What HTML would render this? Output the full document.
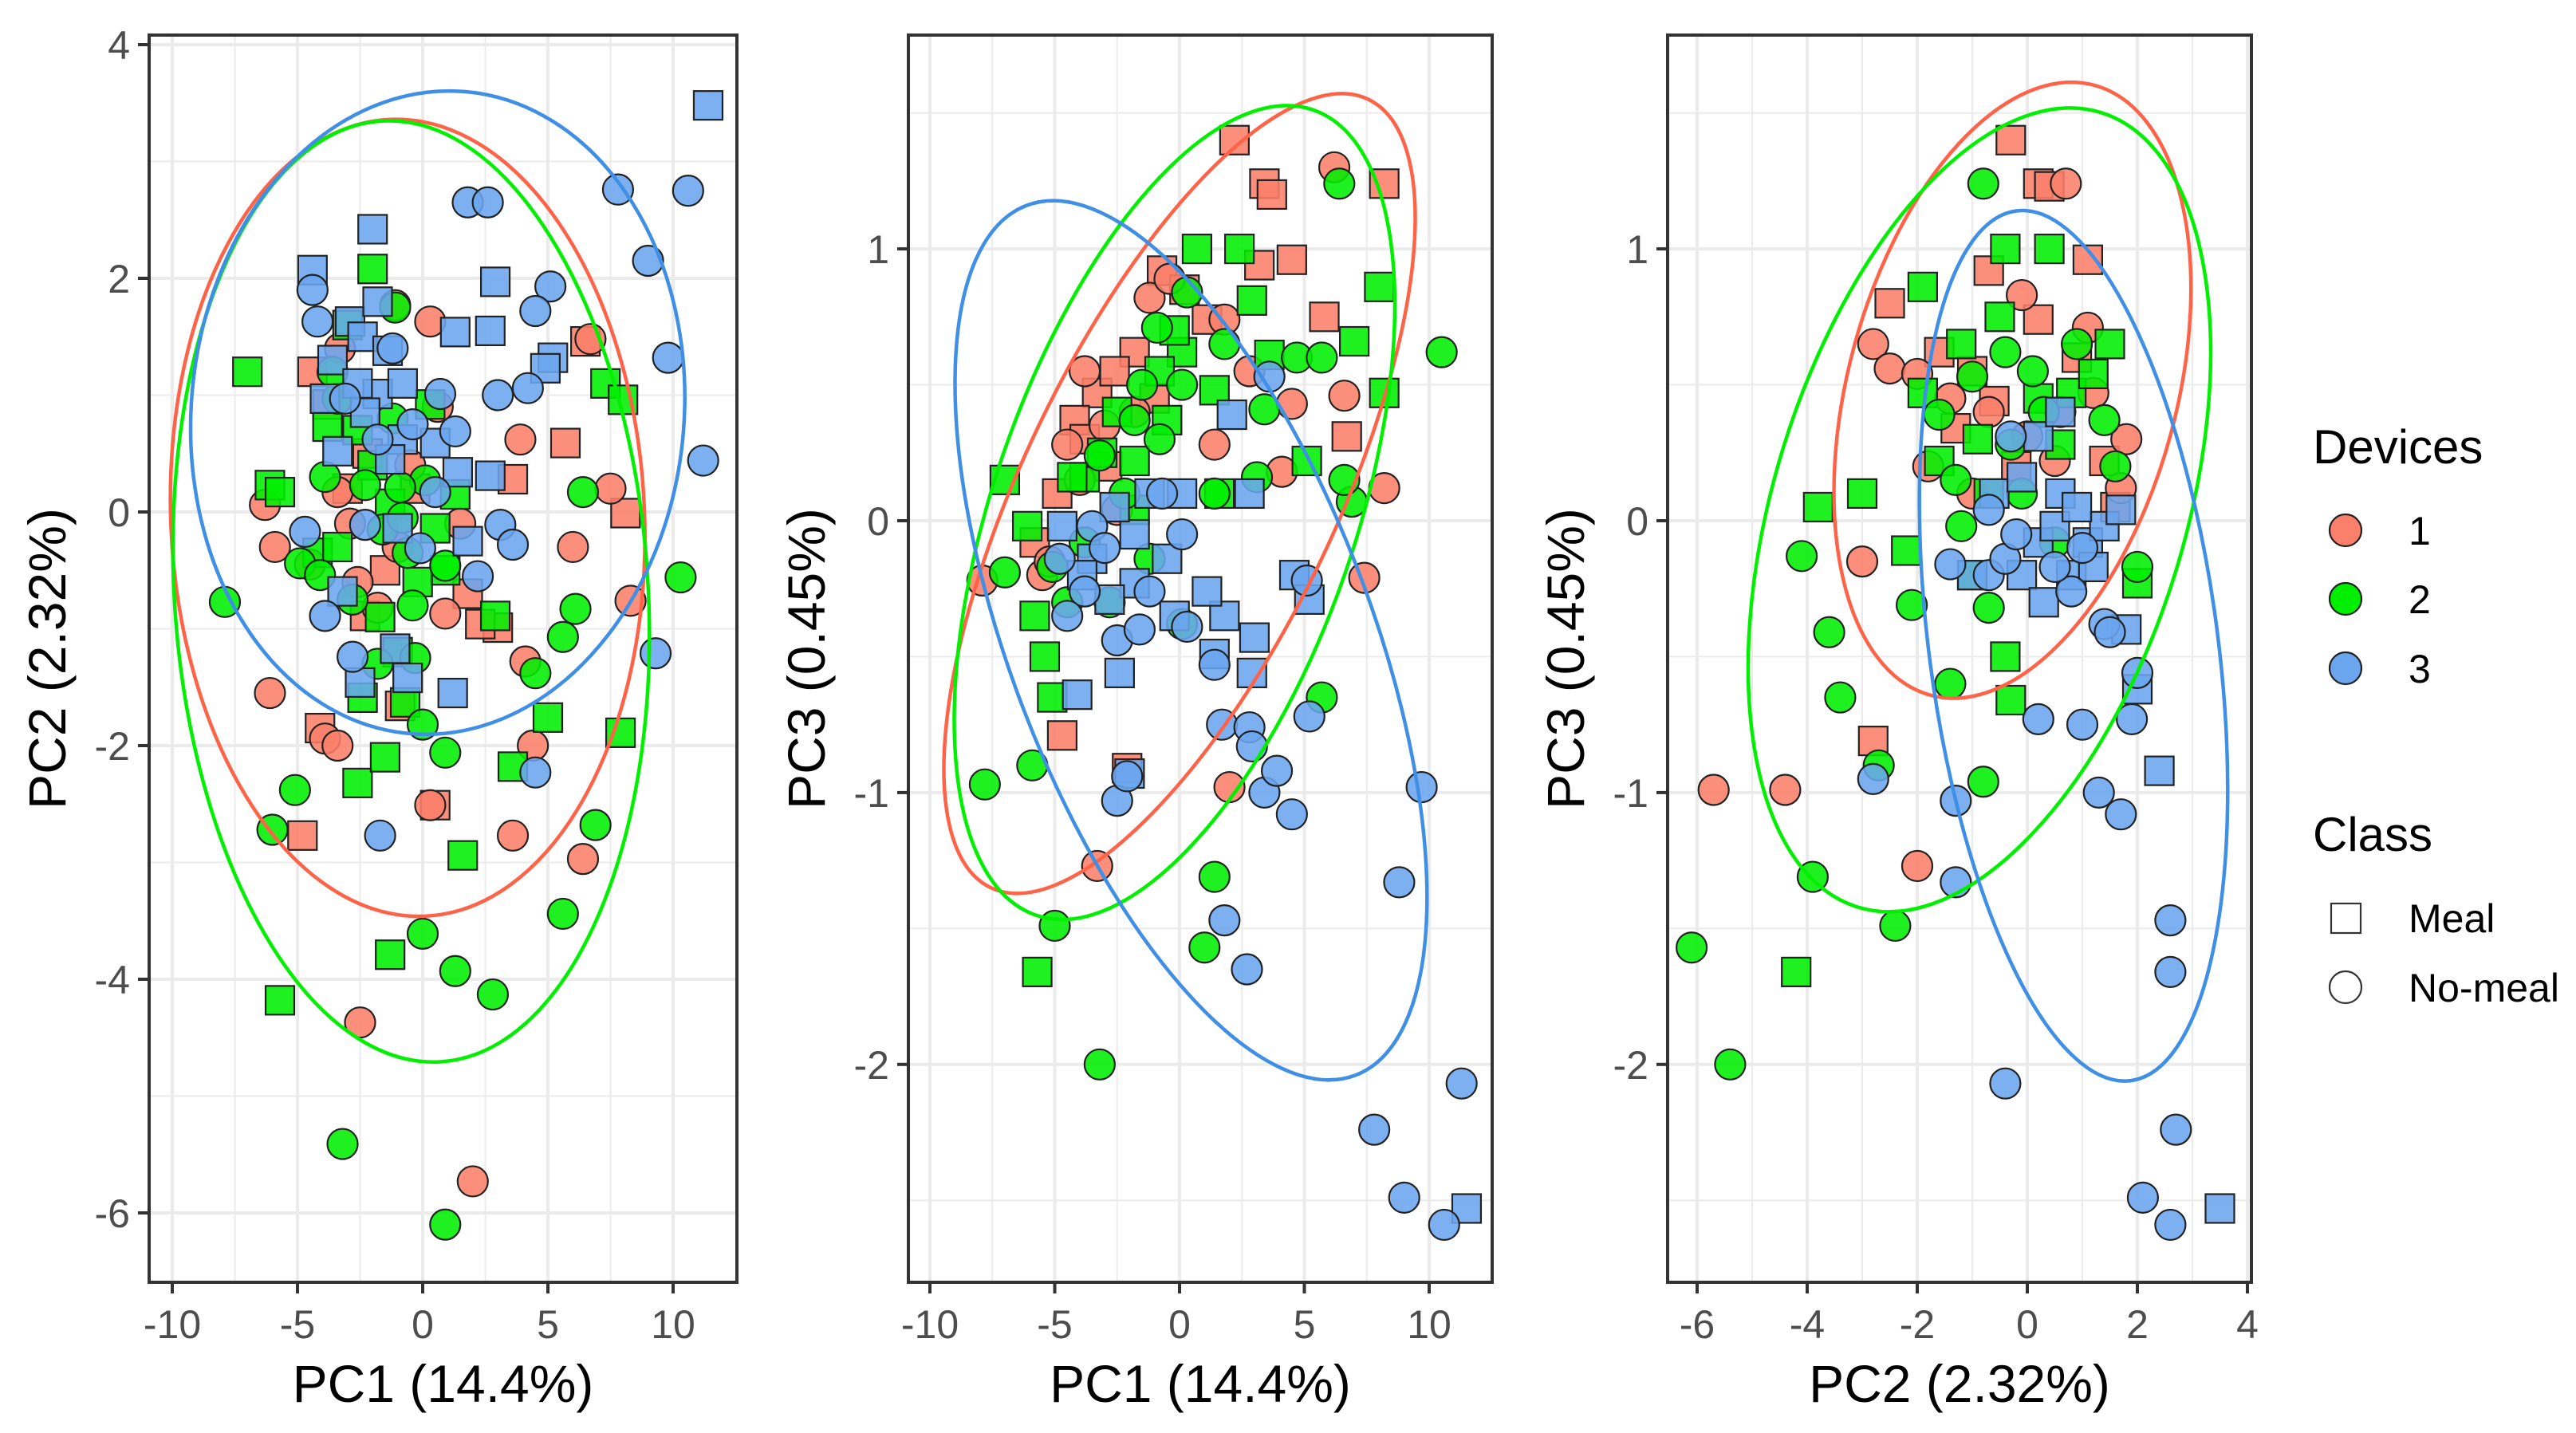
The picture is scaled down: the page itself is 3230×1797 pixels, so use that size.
<!DOCTYPE html>
<html><head><meta charset="utf-8"><style>
html,body{margin:0;padding:0;background:#fff}
svg{display:block}
text{font-family:"Liberation Sans",Arial,sans-serif}
</style></head><body>
<svg id="chart" width="3230" height="1797" viewBox="0 0 3230 1797" xmlns="http://www.w3.org/2000/svg"></svg>
<script>
// ---------- Panel 1: PC1 vs PC2 ----------
const p1_r_sq=[[-4.8,-2.77],[-4.1,-1.85],[0.5,-2.51],[-0.9,-1.66],[3.0,-0.99],[8.1,-0.01],[5.7,0.59],[6.5,1.46],[-3.8,0.92],[-4.4,1.2],[3.6,0.28],[-2.3,-0.89],[2.3,-0.96],[-3.0,0.2],[-1.5,-0.5],[-2.2,0.5],[-0.3,0.2],[1.8,-0.7]];
const p1_r_ci=[[-6.1,-1.55],[-3.9,-1.94],[-3.4,-2.0],[-2.5,-4.37],[2.0,-5.73],[0.3,-2.51],[3.6,-2.77],[6.4,-2.97],[4.4,-2.0],[4.1,-1.28],[6.0,-0.3],[7.5,0.2],[8.3,-0.76],[0.3,1.63],[-1.1,1.77],[-6.3,0.06],[-5.9,-0.3],[3.9,0.62],[-1.8,-0.82],[0.9,-0.87],[-3.4,0.17],[6.7,1.48],[-4.5,-0.45],[-2.6,-0.6],[1.5,-0.1],[-0.5,0.4],[-2.9,-0.1],[-1.0,-0.3],[0.6,0.9],[-3.3,1.4]];
const p1_g_sq=[[-7.0,1.2],[-5.7,-4.18],[-1.3,-3.79],[1.6,-2.94],[-2.6,-2.32],[-0.7,-1.63],[-2.4,-1.59],[5.0,-1.76],[3.6,-2.18],[7.9,-1.89],[7.3,1.1],[8.0,0.96],[-2.0,2.08],[-6.1,0.23],[-5.7,0.17],[-2.6,0.7],[0.3,0.92],[2.9,-0.89],[-3.8,0.73],[-1.3,0.07],[0.5,-0.14],[-4.2,-0.35],[-3.4,-0.3],[-1.0,-1.2],[0.9,-0.5],[1.3,0.15],[-1.5,-2.1],[-2.0,0.4],[-0.2,-0.6],[-1.7,-0.9],[-3.0,1.6]];
const p1_g_ci=[[-7.9,-0.77],[-5.1,-2.38],[-6.0,-2.72],[-3.2,-5.41],[0.9,-6.1],[0,-3.61],[1.3,-3.93],[2.8,-4.13],[5.6,-3.44],[6.9,-2.68],[0,-1.82],[0.9,-2.06],[5.6,-1.07],[4.5,-1.38],[6.1,-0.83],[10.3,-0.56],[6.4,0.17],[-1.1,1.75],[-4.9,-0.44],[-4.1,-0.54],[-1.6,-0.15],[0.1,0.27],[0.9,-0.46],[-0.6,-0.35],[-0.3,-1.25],[-3.4,0.97],[-0.9,0.21],[-2.3,0.23],[-3.6,1.2],[-1.8,-1.3],[-0.4,-0.8],[-2.8,-0.75],[-0.8,-0.05],[-3.9,0.3],[-1.2,0.8]];
const p1_b_sq=[[11.4,3.48],[-2.0,2.42],[-4.4,2.07],[2.9,1.97],[1.3,1.54],[2.7,1.55],[5.2,1.32],[4.9,1.23],[-3.6,1.3],[-2.9,1.63],[-2.4,1.5],[-1.4,1.38],[-3.9,0.97],[-1.8,1.01],[-0.8,1.1],[-3.4,0.52],[-0.8,0.62],[0.5,0.59],[1.4,0.34],[2.7,0.31],[-3.2,-0.68],[-1.0,-0.14],[1.8,-0.25],[-1.1,-1.17],[-2.5,-1.46],[-0.6,-1.42],[1.2,-1.55],[-1.8,1.8],[-2.6,1.1],[-1.3,0.45],[-2.3,0.85]];
const p1_b_ci=[[1.8,2.65],[2.6,2.65],[7.8,2.76],[10.6,2.75],[9.0,2.15],[9.8,1.32],[11.2,0.44],[9.3,-1.21],[5.1,1.93],[4.5,1.72],[4.2,1.06],[3.0,1.0],[0.7,1.01],[1.3,0.69],[-4.4,1.9],[-4.2,1.63],[-3.1,0.97],[-4.7,-0.17],[-3.9,-0.89],[-2.8,-1.24],[-0.1,-0.31],[3.1,-0.11],[3.6,-0.28],[-1.7,-2.77],[4.5,-2.23],[-1.8,0.62],[-2.3,-0.11],[0.5,0.17],[2.2,-0.55],[-1.2,1.4],[-0.4,0.75]];
// ---------- Panel 2: PC1 vs PC3 ----------
const p2_r_sq=[[2.2,1.40],[3.4,1.24],[3.7,1.20],[8.2,1.24],[4.5,0.96],[3.2,0.94],[5.8,0.75],[6.7,0.31],[-4.7,-0.79],[-2.1,-0.91],[-0.7,0.92],[1.1,0.74],[-1.8,0.62],[-3.3,0.47],[-4.2,0.37],[-5.8,-0.08],[-2.6,0.55],[-3.8,0.3],[0.2,0.85],[-2.9,0.2],[-4.9,0.1],[-1.0,0.45]];
const p2_r_ci=[[2.0,-0.98],[-3.3,-1.27],[7.4,-0.21],[8.2,0.12],[6.6,0.46],[4.5,0.43],[4.1,0.18],[1.8,0.74],[-7.9,-0.22],[-1.2,0.82],[-3.8,0.55],[-4.5,0.28],[-1.8,0.40],[1.4,0.28],[-2.5,0.04],[-0.4,0.89],[6.2,1.3],[2.8,0.55],[-5.5,-0.2],[-4.0,0.15],[-3.0,0.35],[-5.2,-0.15]];
const p2_g_sq=[[-7.0,0.15],[-5.4,-0.5],[-5.1,-0.65],[-5.7,-1.66],[0.7,1.0],[2.4,1.0],[2.9,0.81],[3.6,0.61],[8.0,0.86],[8.2,0.47],[7.0,0.66],[5.1,0.22],[1.6,0.10],[0.1,0.62],[-2.5,0.40],[-3.8,0.16],[-6.1,-0.02],[-1.8,0.04],[1.4,0.48],[-0.5,0.37],[-1.8,0.22],[-4.3,0.16],[-0.2,0.7],[-5.8,-0.35],[-3.1,0.25],[-0.8,0.55]];
const p2_g_ci=[[6.4,1.24],[10.5,0.62],[-7.8,-0.97],[-5.9,-0.90],[-5.0,-1.49],[-3.2,-2.0],[1.4,-1.31],[1.0,-1.57],[5.7,-0.65],[6.9,0.07],[6.6,0.15],[3.4,0.41],[4.7,0.60],[5.7,0.6],[1.8,0.65],[0.3,0.84],[-0.9,0.71],[0.1,0.5],[-1.8,0.37],[-3.2,0.24],[0.1,-0.38],[-3.8,-0.08],[-5.1,-0.17],[-1.2,-0.14],[-7.0,-0.19],[1.4,0.10],[3.1,0.16],[-0.8,0.3],[-2.8,-0.3],[-2.2,0.1],[-1.5,0.5],[-4.5,-0.3]];
const p2_b_sq=[[11.5,-2.53],[-2.0,-0.93],[-2.4,-0.56],[-4.1,-0.64],[2.9,-0.56],[1.4,-0.49],[3.0,-0.43],[4.6,-0.20],[5.2,-0.29],[2.1,0.39],[2.8,0.1],[-1.2,0.10],[-0.5,-0.14],[-1.8,-0.23],[-3.5,-0.14],[-2.8,-0.29],[-0.2,-0.35],[-1.8,-0.05],[1.8,-0.35],[0.1,0.1],[1.1,-0.26],[-4.7,-0.02],[-2.6,0.05],[-3.9,-0.2]];
const p2_b_ci=[[9.7,-0.98],[8.8,-1.33],[7.8,-2.24],[11.3,-2.07],[9.0,-2.49],[10.6,-2.59],[2.7,-1.65],[1.8,-1.47],[1.7,-0.75],[2.8,-0.76],[2.9,-0.83],[3.4,-1.0],[3.9,-0.92],[4.5,-1.08],[5.2,-0.72],[5.1,-0.22],[3.6,0.53],[-2.5,-1.03],[-2.1,-0.94],[1.4,-0.53],[0.3,-0.39],[-1.2,-0.26],[-3.8,-0.26],[-3.5,-0.02],[-4.5,-0.35],[-2.5,-0.44],[-4.8,-0.14],[-0.7,0.1],[0.1,-0.05],[-3.0,-0.1],[-1.6,-0.4]];
// ---------- Panel 3: PC2 vs PC3 ----------
const p3_r_sq=[[-0.3,1.40],[0.2,1.24],[0.4,1.23],[1.1,0.96],[-2.8,-0.81],[-2.5,0.80],[-0.7,0.92],[0.2,0.74],[-1.3,0.34],[1.4,0.22],[-0.6,0.44],[-1.6,0.62],[0.9,0.6],[-0.2,0.2],[1.6,0.05],[-1.0,0.55]];
const p3_r_ci=[[-5.7,-0.99],[-4.4,-0.99],[-2.0,-1.27],[-2.8,0.65],[-3.0,-0.15],[-2.5,0.56],[-2.0,0.54],[0.5,0.22],[1.7,0.12],[1.2,0.47],[-0.7,0.40],[0.0,0.31],[-1.0,0.10],[-0.1,0.83],[1.1,0.71],[-1.8,0.2],[0.7,1.24],[1.8,0.3],[-1.4,0.45],[0.6,0.4]];
const p3_g_sq=[[-3.0,0.10],[-3.8,0.05],[-4.2,-1.66],[-1.9,0.86],[-0.4,1.0],[0.4,1.0],[-0.3,-0.66],[-0.4,-0.50],[-1.0,-0.2],[-2.2,-0.11],[-1.6,0.22],[0.8,0.47],[1.5,0.65],[1.2,0.54],[-1.2,0.65],[0.6,0.28],[-0.7,0.1],[2.0,-0.23],[-1.9,0.47],[-0.5,0.75],[0.2,0.45],[-0.9,0.3]];
const p3_g_ci=[[-0.8,1.24],[-4.1,-0.13],[-3.6,-0.41],[-3.4,-0.65],[-2.7,-0.90],[-3.9,-1.31],[-2.4,-1.49],[-6.1,-1.57],[-5.4,-2.0],[-2.1,-0.31],[-1.4,-0.60],[-0.8,-0.96],[-0.7,-0.32],[-1.6,0.39],[-1.0,0.53],[-0.3,0.28],[0.3,0.40],[0.9,0.65],[1.4,0.37],[-0.4,0.62],[-1.2,-0.02],[0.5,-0.08],[2.0,-0.17],[-0.1,0.1],[1.6,0.2],[-1.3,0.15],[0.1,0.55]];
const p3_b_sq=[[2.4,-0.92],[3.5,-2.53],[2.0,-0.62],[0.2,0.31],[0.6,0.1],[1.1,-0.08],[1.4,-0.02],[0.2,-0.08],[-0.1,-0.2],[-0.6,0.1],[0.5,-0.02],[1.7,0.04],[0.8,-0.2],[-1.0,-0.2],[0.6,0.40],[-0.1,0.16],[1.2,-0.17],[1.8,-0.4],[0.9,0.05],[0.3,-0.3]];
const p3_b_ci=[[-0.4,-2.07],[2.1,-2.49],[2.6,-2.59],[2.7,-2.24],[2.6,-1.66],[2.6,-1.47],[-2.8,-0.95],[-1.3,-1.03],[-1.3,-1.33],[0.2,-0.73],[1.0,-0.75],[1.3,-1.0],[1.7,-1.08],[1.9,-0.73],[2.0,-0.56],[-1.4,-0.16],[-0.7,-0.2],[0.8,-0.26],[1.4,-0.38],[0.5,-0.17],[-0.4,-0.14],[1.5,-0.41],[-0.3,0.31],[-0.7,0.04],[1.0,-0.1],[-0.2,-0.05]];
// ellipse centers in data units
const p1_ell_centers=[[-0.6,-0.05],[-0.46,-0.68],[0.6,0.85]];
const p2_ell_centers=[[0.0,0.10],[-0.2,0.03],[0.46,-0.44]];
const p3_ell_centers=[[-0.27,0.48],[-0.87,0.04],[0.84,-0.46]];
const p1_xticks=[-10,-5,0,5,10], p1_yticks=[-6,-4,-2,0,2,4];
const p2_xticks=[-10,-5,0,5,10], p2_yticks=[-2,-1,0,1];
const p3_xticks=[-6,-4,-2,0,2,4], p3_yticks=[-2,-1,0,1];

const NS="http://www.w3.org/2000/svg";
const svg=document.getElementById('chart');
function mk(tag,attrs,parent){const e=document.createElementNS(NS,tag);for(const k in attrs)e.setAttribute(k,attrs[k]);(parent||svg).appendChild(e);return e;}
const FILL={r:'#FB7F6A',g:'#00EE00',b:'#6AA5EE'};
const LINE={r:'#FF6347',g:'#00F000',b:'#3F8FE6'};
const TOP=44,BOT=1608;

function panel(id,L,R,x0,xs,y0,ys,xticks,yticks,xminor,yminor,groups,ells,ellGeom,xtitle,ytitle,ytitleX){
  const X=v=>x0+v*xs, Y=v=>y0-v*ys;
  const g=mk('g',{});
  
  
  const grid=mk('g',{},g);
  
  
  xminor.forEach(v=>mk('line',{x1:X(v),x2:X(v),y1:TOP,y2:BOT,stroke:'#ebebeb','stroke-width':2},grid));
  yminor.forEach(v=>mk('line',{x1:L,x2:R,y1:Y(v),y2:Y(v),stroke:'#ebebeb','stroke-width':2},grid));
  xticks.forEach(v=>mk('line',{x1:X(v),x2:X(v),y1:TOP,y2:BOT,stroke:'#ebebeb','stroke-width':4},grid));
  yticks.forEach(v=>mk('line',{x1:L,x2:R,y1:Y(v),y2:Y(v),stroke:'#ebebeb','stroke-width':4},grid));
  const clip='clip-'+id;
  const cp=mk('clipPath',{id:clip},g);mk('rect',{x:L,y:TOP,width:R-L,height:BOT-TOP},cp);
  const pts=mk('g',{'clip-path':'url(#'+clip+')'},g);
  
  
  groups.forEach(([dev,shape,arr])=>{
    arr.forEach(([a,b])=>{
      let e;
      if(shape==='sq'){e=mk('rect',{x:X(a)-18,y:Y(b)-18,width:36,height:36,fill:FILL[dev],'fill-opacity':0.88,stroke:'#222','stroke-width':2.2},pts);}
      else{e=mk('circle',{cx:X(a),cy:Y(b),r:19,fill:FILL[dev],'fill-opacity':0.88,stroke:'#222','stroke-width':2.2},pts);}
      
      
    });
  });
  ['r','g','b'].forEach((d,i)=>{
    const [cx,cy]=ells[i];const [rx,ry,rot]=ellGeom[i];
    const e=mk('ellipse',{cx:X(cx),cy:Y(cy),rx:rx,ry:ry,transform:`rotate(${rot} ${X(cx)} ${Y(cy)})`,fill:'none',stroke:LINE[d],'stroke-width':4.5},pts);
    
    
  });
  const border=mk('rect',{x:L,y:TOP,width:R-L,height:BOT-TOP,fill:'none',stroke:'#333','stroke-width':4},g);
  
  
  xticks.forEach(v=>{
    mk('line',{x1:X(v),x2:X(v),y1:BOT,y2:BOT+14,stroke:'#333','stroke-width':4},g);
    const t=mk('text',{x:X(v),y:BOT+70,'text-anchor':'middle','font-size':50,fill:'#4d4d4d'},g);
    t.textContent=v;
    
    
  });
  yticks.forEach(v=>{
    mk('line',{x1:L-14,x2:L,y1:Y(v),y2:Y(v),stroke:'#333','stroke-width':4},g);
    const t=mk('text',{x:L-24,y:Y(v)+18,'text-anchor':'end','font-size':50,fill:'#4d4d4d'},g);
    t.textContent=v;
    
    
  });
  const xt=mk('text',{x:(L+R)/2,y:1758,'text-anchor':'middle','font-size':66,fill:'#000'},g);
  xt.textContent=xtitle;
  
  
  const yt=mk('text',{x:ytitleX,y:(TOP+BOT)/2,'text-anchor':'middle','font-size':66,fill:'#000',transform:`rotate(-90 ${ytitleX} ${(TOP+BOT)/2})`},g);
  yt.textContent=ytitle;
  
  
}
panel('panel-pc1-pc2',187,924,530,31.4,642,146.5,p1_xticks,p1_yticks,[-7.5,-2.5,2.5,7.5],[-5,-3,-1,1,3],
  [['r','sq',p1_r_sq],['r','ci',p1_r_ci],['g','sq',p1_g_sq],['g','ci',p1_g_ci],['b','sq',p1_b_sq],['b','ci',p1_b_ci]],
  p1_ell_centers,[[297,500,-2.5],[297,591,-3.6],[309,404,5]],'PC1 (14.4%)','PC2 (2.32%)',82);
panel('panel-pc1-pc3',1139,1871,1479,31.3,653,340.9,p2_xticks,p2_yticks,[-7.5,-2.5,2.5,7.5],[-2.5,-1.5,-0.5,0.5,1.5],
  [['r','sq',p2_r_sq],['r','ci',p2_r_ci],['g','sq',p2_g_sq],['g','ci',p2_g_ci],['b','sq',p2_b_sq],['b','ci',p2_b_ci]],
  p2_ell_centers,[[196,548,25.6],[227,534,19],[227,583,-20.7]],'PC1 (14.4%)','PC3 (0.45%)',1034);
panel('panel-pc2-pc3',2091,2823,2542,69.0,653,340.9,p3_xticks,p3_yticks,[-5,-3,-1,1,3],[-2.5,-1.5,-0.5,0.5,1.5],
  [['r','sq',p3_r_sq],['r','ci',p3_r_ci],['g','sq',p3_g_sq],['g','ci',p3_g_ci],['b','sq',p3_b_sq],['b','ci',p3_b_ci]],
  p3_ell_centers,[[206,396,15],[258,521,17],[181,550,-7.5]],'PC2 (2.32%)','PC3 (0.45%)',1986);

// Legend
const lg=mk('g',{});


const lt1=mk('text',{x:2900,y:581,'font-size':60,fill:'#000'},lg);lt1.textContent='Devices';


[['r','1',665],['g','2',751],['b','3',838]].forEach(([d,l,y])=>{
  const c=mk('circle',{cx:2941,cy:y,r:20,fill:FILL[d],stroke:'#222','stroke-width':2.2},lg);
  
  
  const t=mk('text',{x:3020,y:y+18,'font-size':50,fill:'#000'},lg);t.textContent=l;
  
  
});
const lt2=mk('text',{x:2900,y:1067,'font-size':60,fill:'#000'},lg);lt2.textContent='Class';


const ks=mk('rect',{x:2923,y:1133,width:37,height:37,fill:'none',stroke:'#333','stroke-width':2.2},lg);


const km=mk('text',{x:3020,y:1169,'font-size':50,fill:'#000'},lg);km.textContent='Meal';


const kc=mk('circle',{cx:2941,cy:1238,r:20,fill:'none',stroke:'#333','stroke-width':2.2},lg);


const kn=mk('text',{x:3020,y:1256,'font-size':50,fill:'#000'},lg);kn.textContent='No-meal';


</script>
</body></html>
